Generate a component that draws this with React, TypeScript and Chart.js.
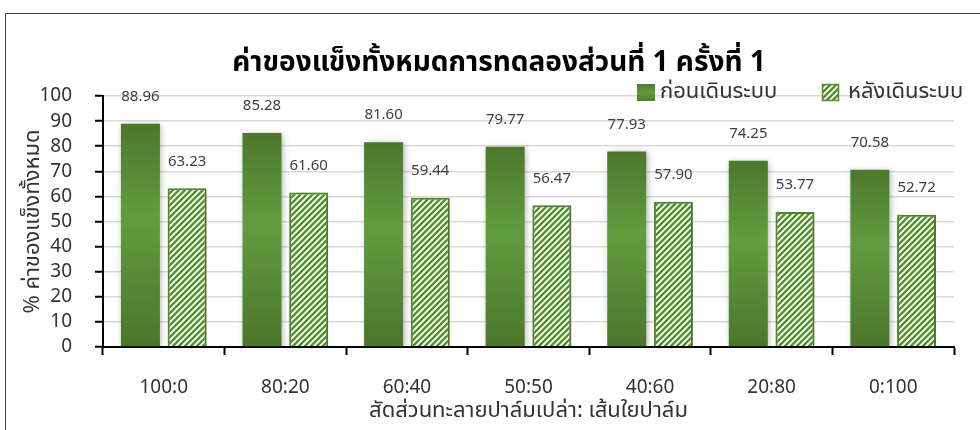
import React, { useEffect, useRef } from "react";
import { Chart, registerables } from "chart.js";

Chart.register(...registerables);

const categories = ["100:0", "80:20", "60:40", "50:50", "40:60", "20:80", "0:100"];
const beforeValues = [88.96, 85.28, 81.6, 79.77, 77.93, 74.25, 70.58];
const afterValues = [63.23, 61.6, 59.44, 56.47, 57.9, 53.77, 52.72];
const seriesNames = ["ก่อนเดินระบบ", "หลังเดินระบบ"];
const chartTitle = "ค่าของแข็งทั้งหมดการทดลองส่วนที่ 1 ครั้งที่ 1";
const xTitle = "สัดส่วนทะลายปาล์มเปล่า: เส้นใยปาล์ม";
const yTitle = "% ค่าของแข็งทั้งหมด";
const yMin = 0;
const yMax = 100;
const yStep = 10;

const FONT = "'Noto Sans', 'Noto Sans Thai', sans-serif";
const TEXT = "#333333";
const GREEN_BORDER = "#568c33";

function makeHatch(): CanvasPattern | string {
  const c = document.createElement("canvas");
  const s = 6;
  c.width = s;
  c.height = s;
  const g = c.getContext("2d");
  if (!g) return "#5d9438";
  g.fillStyle = "#56902f";
  g.fillRect(0, 0, s, s);
  g.strokeStyle = "#ffffff";
  g.lineWidth = 1.75;
  g.lineCap = "square";
  g.beginPath();
  g.moveTo(-1, 1);
  g.lineTo(1, -1);
  g.moveTo(0, s);
  g.lineTo(s, 0);
  g.moveTo(s - 1, s + 1);
  g.lineTo(s + 1, s - 1);
  g.stroke();
  const p = g.createPattern(c, "repeat");
  return p || "#5d9438";
}

function greenGradient(context: any) {
  const chart = context.chart;
  const yScale = chart.scales && chart.scales.y;
  if (!chart.chartArea || !yScale || context.raw == null) return "#578a35";
  const top = yScale.getPixelForValue(context.raw);
  const base = yScale.getPixelForValue(0);
  const g = chart.ctx.createLinearGradient(0, top, 0, base);
  g.addColorStop(0, "#4b772c");
  g.addColorStop(0.42, "#619d3e");
  g.addColorStop(1, "#4a762c");
  return g;
}

export default function App() {
  const ref = useRef<HTMLCanvasElement | null>(null);

  useEffect(() => {
    if (!ref.current) return;
    const hatch = makeHatch();

    const shadowPlugin = {
      id: "barShadow",
      beforeDatasetsDraw(chart: any) {
        const ctx = chart.ctx;
        ctx.save();
        ctx.shadowColor = "rgba(0,0,0,0.28)";
        ctx.shadowBlur = 6;
        ctx.shadowOffsetX = 1.5;
        ctx.shadowOffsetY = 1;
      },
      afterDatasetsDraw(chart: any) {
        chart.ctx.restore();
      },
    };

    const labelPlugin = {
      id: "valueLabels",
      afterDatasetsDraw(chart: any) {
        const ctx = chart.ctx;
        ctx.save();
        ctx.shadowColor = "transparent";
        ctx.fillStyle = "#404040";
        ctx.font = `15px ${FONT}`;
        ctx.textAlign = "center";
        ctx.textBaseline = "middle";
        chart.data.datasets.forEach((ds: any, i: number) => {
          const meta = chart.getDatasetMeta(i);
          meta.data.forEach((el: any, j: number) => {
            ctx.fillText(Number(ds.data[j]).toFixed(2), el.x, el.y - 27);
          });
        });
        ctx.restore();
      },
    };

    const titleLegendPlugin = {
      id: "titleLegend",
      afterDraw(chart: any) {
        const ctx = chart.ctx;
        ctx.save();
        ctx.fillStyle = "#000";
        ctx.font = `bold 28px ${FONT}`;
        ctx.textAlign = "center";
        ctx.textBaseline = "alphabetic";
        ctx.fillText(chartTitle, 499, 71);

        // legend
        ctx.font = `22px ${FONT}`;
        ctx.textAlign = "left";
        const g = ctx.createLinearGradient(0, 84, 0, 101);
        g.addColorStop(0, "#4f7d30");
        g.addColorStop(0.5, "#619d3e");
        g.addColorStop(1, "#4f7d30");
        ctx.fillStyle = g;
        ctx.fillRect(637, 84, 18, 17);
        ctx.fillStyle = TEXT;
        ctx.fillText(seriesNames[0], 660, 98);
        ctx.fillStyle = hatch as any;
        ctx.fillRect(822, 84, 17, 17);
        ctx.strokeStyle = GREEN_BORDER;
        ctx.lineWidth = 1.5;
        ctx.strokeRect(822.5, 84.5, 16, 16);
        ctx.fillStyle = TEXT;
        ctx.fillText(seriesNames[1], 848, 98);
        ctx.restore();
      },
    };

    const chart = new Chart(ref.current, {
      type: "bar",
      data: {
        labels: categories,
        datasets: [
          {
            label: seriesNames[0],
            data: beforeValues,
            backgroundColor: greenGradient as any,
            borderWidth: 0,
            categoryPercentage: 0.768,
            barPercentage: 0.835,
          },
          {
            label: seriesNames[1],
            data: afterValues,
            backgroundColor: hatch as any,
            borderColor: GREEN_BORDER,
            borderWidth: 2,
            categoryPercentage: 0.768,
            barPercentage: 0.835,
          },
        ],
      },
      options: {
        animation: false,
        responsive: false,
        maintainAspectRatio: false,
        layout: { padding: { top: 96, right: 26, bottom: 0, left: 0 } },
        plugins: {
          legend: { display: false },
          title: { display: false },
          tooltip: { enabled: false },
        },
        scales: {
          x: {
            ticks: { color: TEXT, padding: 21, font: { size: 19, family: FONT } },
            grid: {
              drawOnChartArea: false,
              offset: true,
              tickColor: "#000",
              tickLength: 8,
              tickWidth: 2,
            },
            border: { color: "#000", width: 2 },
            title: {
              display: true,
              text: xTitle,
              color: TEXT,
              font: { size: 22, family: FONT },
              padding: { top: 0, bottom: 6 },
            },
            afterFit: (s: any) => {
              s.height = 83;
            },
          },
          y: {
            min: yMin,
            max: yMax,
            ticks: {
              stepSize: yStep,
              autoSkip: false,
              color: TEXT,
              padding: 23,
              font: { size: 19, family: FONT },
            },
            grid: {
              color: "#d9d9d9",
              lineWidth: 1.5,
              tickColor: "#000",
              tickLength: 8,
              tickWidth: 2,
            },
            border: { color: "#000", width: 2 },
            title: {
              display: true,
              text: yTitle,
              color: TEXT,
              font: { size: 22, family: FONT },
              padding: { top: 20, bottom: 0 },
            },
            afterFit: (s: any) => {
              s.width = 103;
            },
          },
        },
      },
      plugins: [shadowPlugin, labelPlugin, titleLegendPlugin],
    });

    return () => chart.destroy();
  }, []);

  return (
    <div
      style={{
        position: "fixed",
        left: 0,
        top: 0,
        width: 980,
        height: 430,
        overflow: "hidden",
        background: "#fff",
      }}
    >
      <div
        style={{
          position: "absolute",
          left: 5,
          top: 13,
          width: 1000,
          height: 500,
          border: "1.5px solid #3c3c3c",
          boxSizing: "border-box",
        }}
      />
      <canvas
        ref={ref}
        width={980}
        height={430}
        style={{ position: "absolute", left: 0, top: 0, width: 980, height: 430 }}
      />
    </div>
  );
}
